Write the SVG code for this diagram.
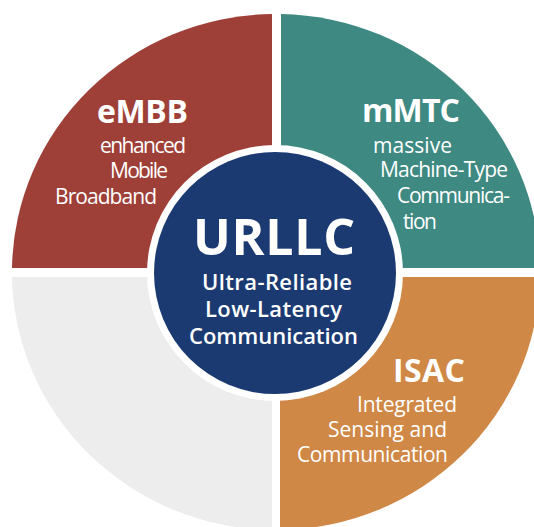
<svg xmlns="http://www.w3.org/2000/svg" width="534" height="527" viewBox="0 0 534 527">
  <style>
    .title { font-family: "Open Sans", "Liberation Sans", Arial, sans-serif; font-weight: 700; fill: #ffffff; }
    .sub { font-family: "Open Sans", "Liberation Sans", Arial, sans-serif; font-size: 21px; font-weight: 500; fill: #ffffff; }
    .core-sub { font-family: "Open Sans", "Liberation Sans", Arial, sans-serif; font-size: 22px; font-weight: 600; fill: #ffffff; }
  </style>
  <rect width="534" height="527" fill="#ffffff"/>

  <!-- eMBB: upper-left quadrant -->
  <g id="embb">
    <path d="M272,268 L12,268 A264,258 0 0 1 272,14 Z" fill="#9E4038"/>
    <text class="title" x="97" y="123" font-size="32" textLength="91">eMBB</text>
    <text class="sub" x="100" y="153" textLength="86">enhanced</text>
    <text class="sub" x="110" y="178" textLength="58">Mobile</text>
    <text class="sub" x="55" y="204" textLength="102">Broadband</text>
  </g>

  <!-- mMTC: upper-right quadrant -->
  <g id="mmtc">
    <path d="M281,268 L281,14 A264,258 0 0 1 540,268 Z" fill="#3E8A82"/>
    <text class="title" x="362" y="122" font-size="32" textLength="98">mMTC</text>
    <text class="sub" x="373" y="153" textLength="79">massive</text>
    <text class="sub" x="380" y="177" textLength="128">Machine-Type</text>
    <text class="sub" x="397" y="203" textLength="113">Communica-</text>
    <text class="sub" x="403" y="229" textLength="34">tion</text>
  </g>

  <!-- ISAC: lower-right quadrant -->
  <g id="isac">
    <path d="M280,277 L540,277 A264,258 0 0 1 280,530 Z" fill="#CF8846"/>
    <text class="title" x="393" y="382" font-size="32" textLength="72">ISAC</text>
    <text class="sub" x="357" y="412" textLength="100">Integrated</text>
    <text class="sub" x="328" y="437" textLength="119">Sensing and</text>
    <text class="sub" x="297" y="462" textLength="151">Communication</text>
  </g>

  <!-- empty lower-left quadrant -->
  <g id="reserved">
    <path d="M272,277 L272,530 A264,258 0 0 1 12,277 Z" fill="#EDEDED"/>
  </g>

  <!-- URLLC: central hub -->
  <g id="urllc">
    <circle cx="275" cy="273" r="128" fill="#ffffff"/>
    <circle cx="275" cy="273" r="121" fill="#1C3A72"/>
    <text class="title" x="193" y="255" font-size="50" textLength="162">URLLC</text>
    <text class="core-sub" x="202" y="290" textLength="150">Ultra-Reliable</text>
    <text class="core-sub" x="205" y="317" textLength="137">Low-Latency</text>
    <text class="core-sub" x="189" y="344" textLength="169">Communication</text>
  </g>

  <g id="connectors"/>
</svg>
